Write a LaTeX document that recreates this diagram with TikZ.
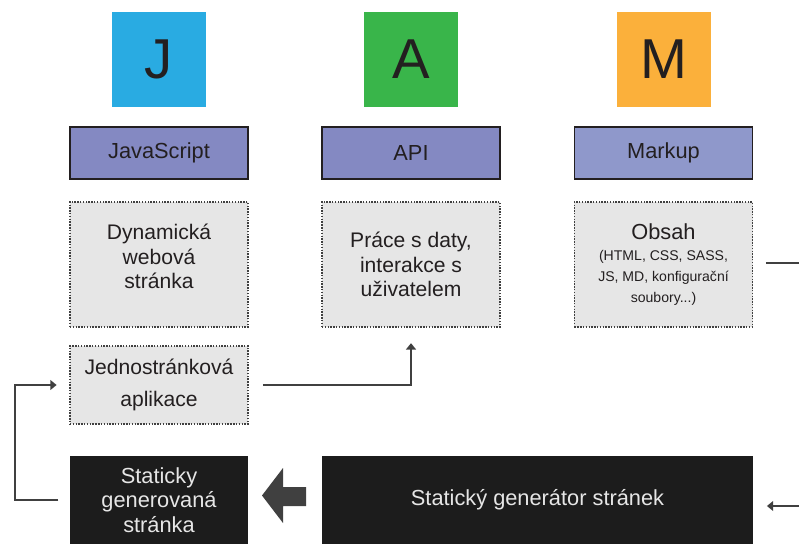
\documentclass[tikz,border=0pt]{standalone}
\usepackage{fontspec}
\setmainfont{Liberation Sans}
\usetikzlibrary{arrows.meta}
\usetikzlibrary{positioning}

\definecolor{jblue}{HTML}{29ABE2}
\definecolor{agreen}{HTML}{39B54A}
\definecolor{morange}{HTML}{FBB03B}
\definecolor{titlefill}{HTML}{8489C2}
\definecolor{markfill}{HTML}{8F98CB}
\definecolor{notefill}{HTML}{E6E6E6}
\definecolor{darkfill}{HTML}{1C1C1C}
\definecolor{linegray}{HTML}{404040}
\definecolor{inkgray}{HTML}{231F20}

\begin{document}
\begin{tikzpicture}[x=0.025cm,y=-0.025cm]
\tikzset{letterbox/.style = {rectangle,minimum size=2.35cm,inner sep=0pt,text=inkgray,font=\fontsize{40}{40}\selectfont}}
\tikzset{titlebox/.style = {rectangle,draw=inkgray,line width=0.8pt,fill=titlefill,minimum width=4.45cm,minimum height=1.3cm,inner sep=0pt,text=inkgray,font=\fontsize{15.5}{18}\selectfont}}
\tikzset{notebox/.style = {rectangle,draw=linegray,densely dotted,line width=1pt,fill=notefill,minimum width=4.45cm,minimum height=3.125cm,inner sep=0pt,align=center,text=inkgray,font=\fontsize{15}{17.5}\selectfont}}
\tikzset{darkbox/.style = {rectangle,fill=darkfill,minimum height=2.2cm,inner sep=0pt,align=center,text=notefill,font=\fontsize{15.5}{17.5}\selectfont}}
\tikzset{conn/.style = {draw=linegray,line width=1.2pt,-{Triangle[length=4.5pt,width=7pt]}}}
\useasboundingbox (0,0) rectangle (799,544);
% letters
\node[letterbox,fill=jblue] (J) at (159,59.5) {J};
\node[letterbox,fill=agreen] (A) at (411,59.5) {A};
\node[letterbox,fill=morange] (M) at (664,59.5) {M};
% titles
\node[titlebox] (js) at (159,153) {JavaScript};
\node[titlebox] (api) at (411,153) {API};
\node[titlebox,fill=markfill] (markup) at (663.5,153) {Markup};
% notes
\node[notebox] (dyn) at (159,264.5) {Dynamická\\webová\\stránka\\[-6pt]};
\node[notebox] (prace) at (411,264.5) {Práce s daty,\\interakce s\\uživatelem};
\node[notebox,font=\fontsize{10}{15}\selectfont] (obsah) at (663.5,264.5)
  {{\fontsize{15.5}{17}\selectfont Obsah}\\[0pt](HTML, CSS, SASS,\\JS, MD, konfigurační\\soubory...)};
\node[notebox,minimum height=1.95cm,font=\fontsize{15}{22.7}\selectfont] (jedno) at (159,385) {Jednostránková\\aplikace};
% generated
\node[darkbox,minimum width=4.45cm] (stat) at (159,500) {Staticky\\generovaná\\stránka};
\node[darkbox,minimum width=10.75cm] (gen) at (537.5,500) {Statický generátor stránek};
\fill[linegray] (306,487) -- (283,487) -- (283,468) -- (262,495.5) -- (283,523) -- (283,506) -- (306,506) -- cycle;
% connectors
\coordinate (outA) at (799,263);
\coordinate (outB) at (799,506);
\draw[conn,shorten <=8pt,shorten >=9pt] (stat.west) -- ++(-55,0) |- (jedno.west);
\draw[conn,shorten <=10pt,shorten >=11pt] (jedno.east) -| (prace.south);
\draw[draw=linegray,line width=1.2pt,shorten <=9pt] (obsah.east |- outA) -- (outA);
\draw[conn,shorten >=10pt] (outB) -- (outB -| gen.east);
\end{tikzpicture}
\end{document}
